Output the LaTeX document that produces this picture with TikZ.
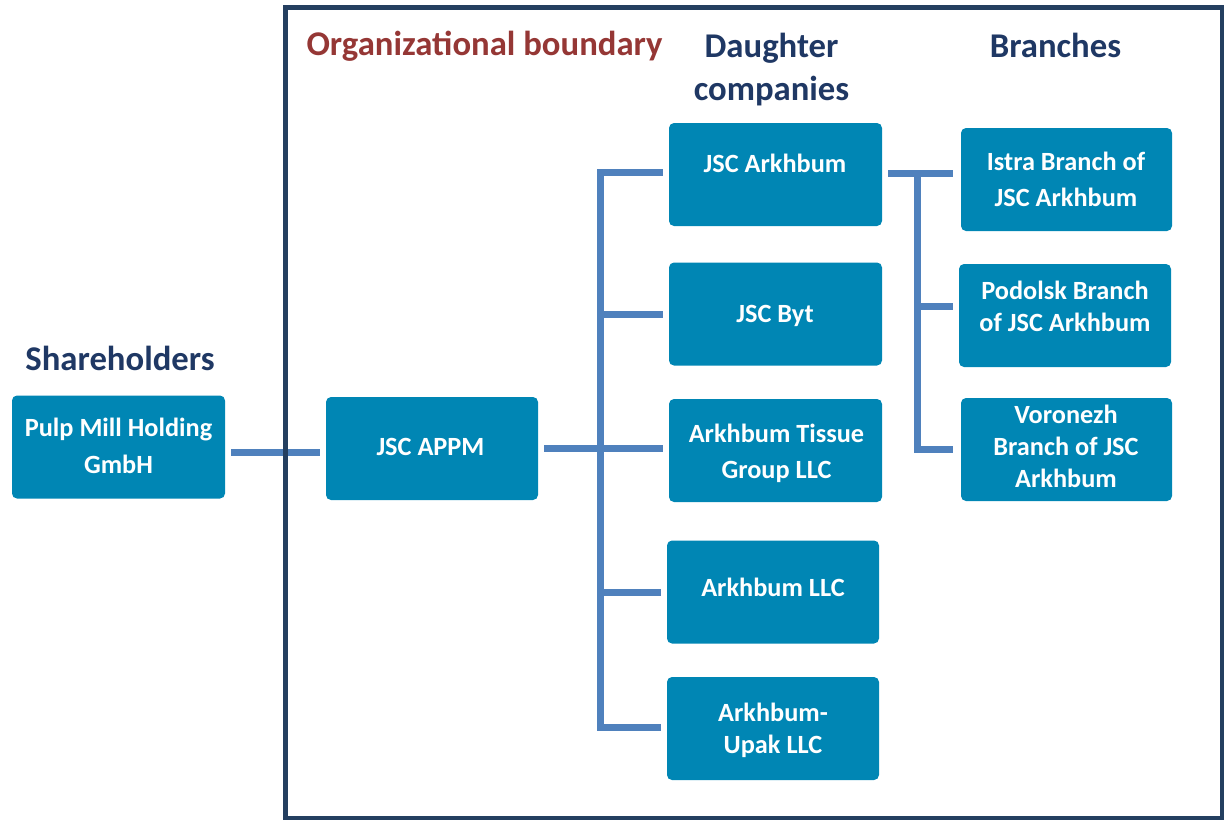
\documentclass[tikz,border=0pt]{standalone}
\usepackage{fontspec}
\setmainfont{Carlito}
\definecolor{boxblue}{HTML}{0086B4}
\definecolor{connblue}{HTML}{4F81BD}
\definecolor{navy}{HTML}{1F3864}
\definecolor{darkred}{HTML}{953735}
\definecolor{framenavy}{HTML}{243F60}
\begin{document}
\begin{tikzpicture}[x=1pt,y=-1pt,
  box/.style={rectangle, rounded corners=5pt, fill=boxblue, inner sep=0pt,
    minimum width=213pt, minimum height=103pt},
  btxt/.style={text=white, font=\fontsize{26.3}{32}\selectfont\bfseries, align=center, inner sep=0pt},
  btxtwide/.style={btxt, font=\fontsize{26.3}{36.5}\selectfont\bfseries},
  hdr/.style={text=navy, font=\fontsize{34.7}{43}\selectfont\bfseries, align=center, inner sep=0pt},
  conn/.style={draw=connblue, line width=7pt},
  frame/.style={draw=framenavy, line width=4.5pt}]
\useasboundingbox (0,0) rectangle (1226,820);

% boxes
\node[box] (pulp) at (118.5,447) {};
\node[box, minimum width=212pt] (appm) at (432,448.5) {};
\node[box] (arkh) at (775.5,174.5) {};
\node[box] (byt) at (775.5,314) {};
\node[box] (tis) at (775.5,450.5) {};
\node[box, minimum width=212pt] (llc) at (773,592) {};
\node[box, minimum width=212pt] (upak) at (773,728.5) {};
\node[box, minimum width=211pt] (istra) at (1066.5,179.5) {};
\node[box, minimum width=212pt] (pod) at (1065,315.5) {};
\node[box, minimum width=211pt] (vor) at (1066.5,449.5) {};

% box texts
\node[btxtwide] (pulpT) at (118.5,446) {Pulp Mill Holding\\GmbH};
\node[btxt, anchor=base] (appmT) at (430.5,455) {JSC APPM};
\node[btxt, anchor=base] (arkhT) at (775,172) {JSC Arkhbum};
\node[btxt, anchor=base] (bytT) at (775,322) {JSC Byt};
\node[btxtwide] (tisT) at (776.5,453.5) {Arkhbum Tissue\\Group LLC};
\node[btxt] (upakT) at (773,730.5) {Arkhbum-\\Upak LLC};
\node[btxt, anchor=base] (llcT) at (773,596) {Arkhbum LLC};
\node[btxtwide] (istraT) at (1066,179.5) {Istra Branch of\\JSC Arkhbum};
\node[btxt] (podT) at (1065,306.5) {Podolsk Branch\\of JSC Arkhbum};
\node[btxt] (vorT) at (1066,446.5) {Voronezh\\Branch of JSC\\Arkhbum};

% headers
\node[hdr, anchor=base] (shT) at (120,370) {Shareholders};
\node[hdr, anchor=base, text=darkred] (orgT) at (484.5,55) {Organizational boundary};
\node[hdr] (dauT) at (771.5,70) {Daughter\\companies};
\node[hdr, anchor=base] (brT) at (1055.5,57) {Branches};

% connectors
\draw[conn] ([shift={(6,5)}]pulp.east) -- ([shift={(-6,3.5)}]appm.west);
\draw[conn] ([shift={(6,-0.5)}]appm.east) -- ([shift={(-6,-2.5)}]tis.west);
\coordinate (bus) at (600,0);
\coordinate (arkhin) at ([shift={(-6,-2.5)}]arkh.west);
\coordinate (upakin) at ([shift={(-6,-1.5)}]upak.west);
\draw[conn] (arkhin) -| (bus |- upakin) -- (upakin);
\draw[conn] (bus |- byt.west) -- ([xshift=-6pt]byt.west);
\draw[conn] (bus |- llc.west) -- ([xshift=-6pt]llc.west);

\coordinate (br) at (917,0);
\coordinate (arkhout) at ([shift={(6,-1.5)}]arkh.east);
\coordinate (istrain) at ([shift={(-8,-6.5)}]istra.west);
\coordinate (podin) at ([shift={(-6,-9.5)}]pod.west);
\coordinate (vorin) at ([xshift=-8pt]vor.west);
\draw[conn] (arkhout) -- (istrain);
\draw[conn] (br |- arkhout) -- (br |- vorin) -- (vorin);
\draw[conn] (br |- podin) -- (podin);

% organizational boundary frame
\draw[frame] (285.5,7.5) rectangle (1222,818);
\end{tikzpicture}
\end{document}
